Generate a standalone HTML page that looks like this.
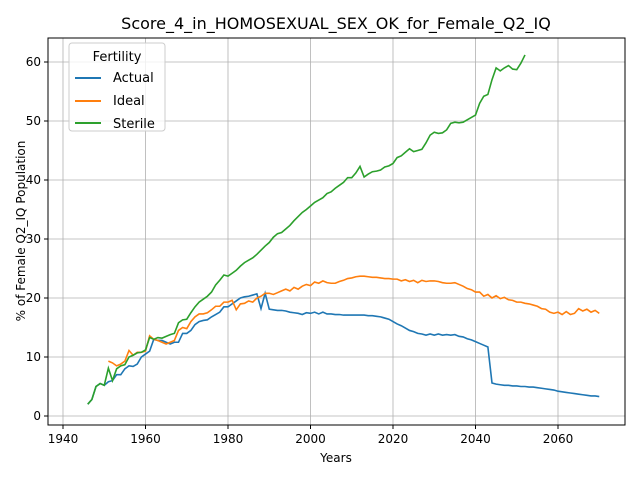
<!DOCTYPE html>
<html><head><meta charset="utf-8"><style>
body{margin:0;background:#fff;font-family:"Liberation Sans","DejaVu Sans",sans-serif}
svg text{font-family:"DejaVu Sans","Liberation Sans",sans-serif}
</style></head><body>
<svg id="c" width="640" height="480" xmlns="http://www.w3.org/2000/svg">
<rect width="640" height="480" fill="#fff"/>
<text x="336" y="29" font-size="16" text-anchor="middle">Score_4_in_HOMOSEXUAL_SEX_OK_for_Female_Q2_IQ</text>
<g id="grid"></g><g id="series"></g>
<rect x="48" y="38" width="577" height="387" fill="none" stroke="#000" stroke-width="1"/>
<g id="ticks"></g>
<text x="336" y="462" font-size="12" text-anchor="middle">Years</text>
<text transform="translate(25,231) rotate(-90)" font-size="12" text-anchor="middle">% of Female Q2_IQ Population</text>
<g>
<rect x="69" y="43" width="96" height="88" rx="3" fill="#fff" fill-opacity="0.8" stroke="#ccc"/>
<text x="117" y="61" font-size="13" text-anchor="middle">Fertility</text>
<g><line x1="75" x2="101" y1="78" y2="78" stroke="#1f77b4" stroke-width="2"/><text x="113" y="82" font-size="13">Actual</text></g>
<g><line x1="75" x2="101" y1="101" y2="101" stroke="#ff7f0e" stroke-width="2"/><text x="113" y="105" font-size="13">Ideal</text></g>
<g><line x1="75" x2="101" y1="123" y2="123" stroke="#2ca02c" stroke-width="2"/><text x="113" y="128" font-size="13">Sterile</text></g>
</g>
</svg>
<script>
const xTicks=[1940,1960,1980,2000,2020,2040,2060];
const yTicks=[0,10,20,30,40,50,60];
const actualStart=1946;
const actual=[2,2.8,5,5.5,5.2,5.8,6,7,7,8,8.5,8.4,8.8,10,10.5,11,13,12.8,12.8,12.5,12.2,12.5,12.5,14,14,14.5,15.5,16,16.2,16.3,16.8,17.2,17.6,18.5,18.5,19,19.5,20,20.2,20.3,20.5,20.7,18.2,20.8,18.1,18,17.9,17.9,17.8,17.6,17.5,17.4,17.2,17.5,17.4,17.6,17.3,17.6,17.3,17.3,17.2,17.2,17.1,17.1,17.1,17.1,17.1,17.1,17,17,16.9,16.8,16.6,16.4,16,15.6,15.3,14.9,14.5,14.3,14,13.9,13.7,13.9,13.7,13.9,13.7,13.8,13.7,13.8,13.5,13.4,13.1,12.9,12.6,12.3,12,11.7,5.6,5.4,5.3,5.2,5.2,5.1,5.1,5,5,4.9,4.9,4.8,4.7,4.6,4.5,4.4,4.2,4.1,4,3.9,3.8,3.7,3.6,3.5,3.4,3.4,3.3];
const idealStart=1951;
const ideal=[9.3,9,8.5,8.8,9.3,11.1,10.3,10.8,10.8,11,13.6,13,12.8,12.5,12.2,12.5,12.8,14.5,15,14.8,16,16.8,17.3,17.3,17.5,18,18.6,18.6,19.3,19.3,19.6,18,19,19.1,19.5,19.3,20,20.3,20.8,20.8,20.6,20.9,21.2,21.5,21.2,21.8,21.5,22,22.3,22.1,22.7,22.5,22.9,22.6,22.5,22.5,22.8,23,23.3,23.4,23.6,23.7,23.7,23.6,23.5,23.5,23.4,23.3,23.3,23.2,23.2,22.9,23.1,22.8,23,22.6,23,22.8,22.9,22.9,22.8,22.6,22.5,22.5,22.6,22.3,22,21.6,21.4,21,21,20.3,20.6,20,20.4,19.9,20.1,19.7,19.6,19.3,19.3,19.1,19,18.8,18.6,18.2,18.1,17.6,17.4,17.6,17.2,17.7,17.2,17.4,18.2,17.8,18.1,17.6,17.9,17.4];
const sterileStart=1946;
const sterile=[2,2.8,5,5.5,5.2,8.1,6,8,8.5,8.7,10,10.3,10.7,10.8,11.2,13.3,13,13.3,13.2,13.5,13.8,14,15.8,16.3,16.4,17.5,18.5,19.3,19.8,20.3,21,22.2,23,23.9,23.7,24.2,24.7,25.4,26,26.4,26.8,27.4,28.1,28.8,29.4,30.3,30.9,31.1,31.7,32.3,33.1,33.8,34.5,35,35.6,36.2,36.6,37,37.7,38,38.6,39.1,39.6,40.4,40.4,41.2,42.3,40.5,41,41.4,41.5,41.7,42.2,42.4,42.8,43.8,44.1,44.7,45.3,44.8,45,45.2,46.3,47.6,48.1,47.9,48,48.5,49.6,49.8,49.7,49.8,50.2,50.6,51,53,54.2,54.5,57,59,58.5,59,59.4,58.8,58.7,59.8,61.2];
const X=v=>63+(v-1940)*4.125, Y=v=>416-v*5.9;
const NS='http://www.w3.org/2000/svg';
function mk(p,t,a){const e=document.createElementNS(NS,t);for(const k in a)e.setAttribute(k,a[k]);p.appendChild(e);return e;}
const grid=document.getElementById('grid'),ticks=document.getElementById('ticks'),ser=document.getElementById('series');
xTicks.forEach(v=>{
 const g=mk(grid,'line',{x1:X(v),x2:X(v),y1:38,y2:425,stroke:'#b0b0b0','stroke-width':0.8});
 
 
 mk(ticks,'line',{x1:X(v),x2:X(v),y1:425,y2:429,stroke:'#000'});
 const t=mk(ticks,'text',{x:X(v),y:443,'font-size':12,'text-anchor':'middle'});t.textContent=v;
 
 
});
yTicks.forEach(v=>{
 const g=mk(grid,'line',{x1:48,x2:625,y1:Y(v),y2:Y(v),stroke:'#b0b0b0','stroke-width':0.8});
 
 
 mk(ticks,'line',{x1:44,x2:48,y1:Y(v),y2:Y(v),stroke:'#000'});
 const t=mk(ticks,'text',{x:41,y:Y(v)+4,'font-size':12,'text-anchor':'end'});t.textContent=v;
 
 
});
function line(arr,start,color,name){
 const p=mk(ser,'polyline',{points:arr.map((v,i)=>X(start+i)+','+Y(v)).join(' '),fill:'none',stroke:color,'stroke-width':1.6});
 
 
}
line(actual,actualStart,'#1f77b4','actual-line');
line(ideal,idealStart,'#ff7f0e','ideal-line');
line(sterile,sterileStart,'#2ca02c','sterile-line');
</script>
</body></html>
